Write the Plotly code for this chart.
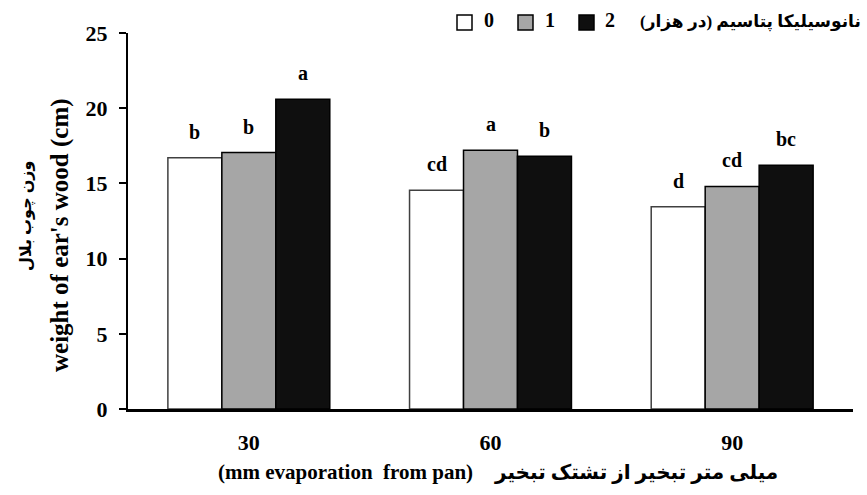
import plotly.graph_objects as go

# ---- data ----
categories = ["30", "60", "90"]
levels = ["0", "1", "2"]
values_0 = [16.7, 14.55, 13.45]
values_1 = [17.05, 17.2, 14.8]
values_2 = [20.6, 16.8, 16.2]
letters_0 = ["b", "cd", "d"]
letters_1 = ["b", "a", "cd"]
letters_2 = ["a", "b", "bc"]
y_ticks = [0, 5, 10, 15, 20, 25]

legend_title = "نانوسیلیکا پتاسیم (در هزار)\u200f"
x_title_en = "(mm evaporation\u00a0 from pan)"
x_title_fa = "میلی متر تبخیر از تشتک تبخیر"
y_title_fa = "وزن چوب بلال"
y_title_en = "weight of ear's wood (cm)"

# ---- styling ----
W, H = 867, 495
ML, MR, MT, MB = 128, 14, 33, 86
PW, PH = W - ML - MR, H - MT - MB
FONT = "Liberation Serif, Times New Roman, DejaVu Sans, serif"
FILLS = ["#ffffff", "#a6a6a6", "#0f0f0f"]
LINES = ["#404040", "#000000", "#000000"]
BARGAP = 0.33


def px(x):
    return (x - ML) / PW


def py(y):
    return (H - MB - y) / PH


series = [values_0, values_1, values_2]
letters = [letters_0, letters_1, letters_2]

fig = go.Figure()
for i, (lvl, vals) in enumerate(zip(levels, series)):
    fig.add_trace(go.Bar(
        x=categories, y=vals, name=lvl,
        marker=dict(color=FILLS[i], line=dict(color=LINES[i], width=1.5)),
        showlegend=False,
    ))

# significance letters above bars
bw = (1 - BARGAP) / len(levels)
ann = []
for i, (vals, labs) in enumerate(zip(series, letters)):
    off = (i - (len(levels) - 1) / 2) * bw
    for j, (v, t) in enumerate(zip(vals, labs)):
        ann.append(dict(x=j + off, y=v, xref="x", yref="y", text=t,
                        showarrow=False, yanchor="bottom", yshift=13,
                        font=dict(family=FONT, size=20, color="black", weight="bold")))

# legend (manual)
boxes = [(457, 472), (518, 533), (579, 594)]
nums_x = [482, 543, 603]
shapes = []
for i, ((x0, x1), nx) in enumerate(zip(boxes, nums_x)):
    shapes.append(dict(type="rect", xref="paper", yref="paper",
                       x0=px(x0), x1=px(x1), y0=py(30), y1=py(15),
                       fillcolor=FILLS[i], line=dict(color="black", width=1.5)))
    ann.append(dict(x=px(nx), y=py(20), xref="paper", yref="paper", text=levels[i],
                    showarrow=False, xanchor="left", yanchor="middle",
                    font=dict(family=FONT, size=20, color="black", weight="bold")))
ann.append(dict(x=px(863), y=py(22), xref="paper", yref="paper", text=legend_title,
                showarrow=False, xanchor="right", yanchor="middle",
                font=dict(family=FONT, size=17, color="black", weight="bold")))

# axis titles
ann.append(dict(x=px(345), y=py(472), xref="paper", yref="paper", text=x_title_en,
                showarrow=False, xanchor="center", yanchor="middle",
                font=dict(family=FONT, size=21, color="black", weight="bold")))
ann.append(dict(x=px(636), y=py(472), xref="paper", yref="paper", text=x_title_fa,
                showarrow=False, xanchor="center", yanchor="middle",
                font=dict(family=FONT, size=20, color="black", weight="bold")))
ann.append(dict(x=px(26), y=py(216), xref="paper", yref="paper", text=y_title_fa,
                showarrow=False, textangle=-90, xanchor="center", yanchor="middle",
                font=dict(family=FONT, size=16, color="black", weight="bold")))
ann.append(dict(x=px(60), y=py(235), xref="paper", yref="paper", text=y_title_en,
                showarrow=False, textangle=-90, xanchor="center", yanchor="middle",
                font=dict(family=FONT, size=25, color="black", weight="bold")))

fig.update_layout(
    width=W, height=H,
    margin=dict(l=ML, r=MR, t=MT, b=MB, pad=0),
    paper_bgcolor="white", plot_bgcolor="white",
    barmode="group", bargap=BARGAP, bargroupgap=0,
    annotations=ann, shapes=shapes,
)
fig.update_xaxes(
    type="category", showgrid=False, showline=True, linecolor="black", linewidth=2.5,
    ticks="", ticklabelstandoff=12,
    tickfont=dict(family=FONT, size=22, color="black", weight="bold"),
)
fig.update_yaxes(
    range=[0, 25], tickvals=y_ticks, showgrid=False, zeroline=False,
    showline=True, linecolor="black", linewidth=2,
    ticks="outside", ticklen=7, tickwidth=1.5, tickcolor="black",
    ticklabelstandoff=7,
    tickfont=dict(family=FONT, size=22, color="black", weight="bold"),
)

fig.write_html(
    "out.html",
    config={"displayModeBar": False},
    post_script="document.body.style.margin='0';document.body.style.overflow='hidden';",
)
